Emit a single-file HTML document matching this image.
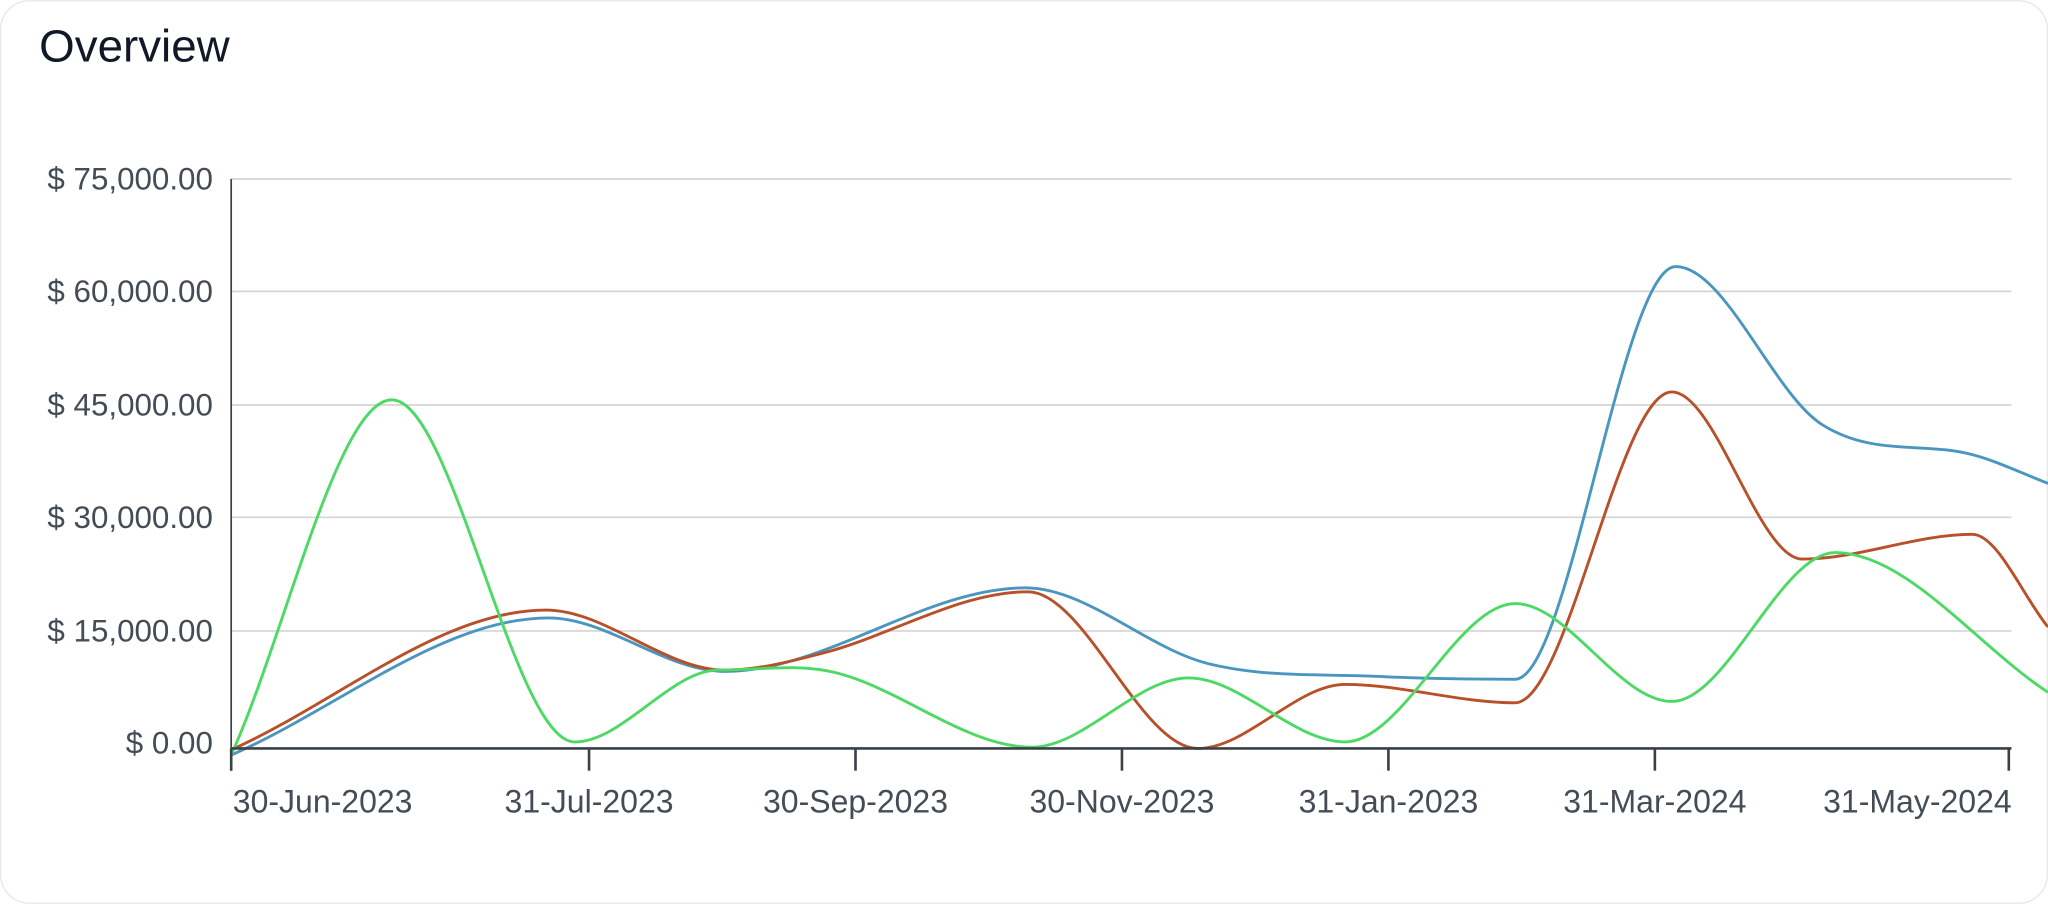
<!DOCTYPE html>
<html><head><meta charset="utf-8"><style>
html,body{margin:0;padding:0;background:#fff;}
svg{display:block;}
</style></head><body>
<svg width="2048" height="904" viewBox="0 0 1568 692" xmlns="http://www.w3.org/2000/svg" font-family="Liberation Sans, sans-serif">
<rect x="0.5" y="0.5" width="1567" height="691" rx="22" fill="#fff" stroke="#e6e6e6"/>
<text x="30" y="47" font-size="35" fill="#111827">Overview</text>
<g stroke="#d4d4d4" stroke-width="1.3">
<line x1="177" y1="137" x2="1540" y2="137"/><line x1="177" y1="223" x2="1540" y2="223"/>
<line x1="177" y1="310" x2="1540" y2="310"/><line x1="177" y1="396" x2="1540" y2="396"/>
<line x1="177" y1="483" x2="1540" y2="483"/>
</g>
<g font-size="24" fill="#444c56" text-anchor="end">
<text x="163" y="145">$ 75,000.00</text><text x="163" y="231">$ 60,000.00</text>
<text x="163" y="318">$ 45,000.00</text><text x="163" y="404">$ 30,000.00</text>
<text x="163" y="491">$ 15,000.00</text><text x="163" y="577">$ 0.00</text>
</g>
<line x1="177" y1="137" x2="177" y2="590" stroke="#3a4048" stroke-width="1.3"/>
<g id="curves" fill="none" stroke-width="2.2"></g>
<line x1="177" y1="573" x2="1540" y2="573" stroke="#3a4048" stroke-width="2"/>
<g stroke="#3a4048" stroke-width="2">
<line x1="177" y1="573" x2="177" y2="590"/><line x1="451" y1="573" x2="451" y2="590"/>
<line x1="655" y1="573" x2="655" y2="590"/><line x1="859" y1="573" x2="859" y2="590"/>
<line x1="1063" y1="573" x2="1063" y2="590"/><line x1="1267" y1="573" x2="1267" y2="590"/>
<line x1="1538" y1="573" x2="1538" y2="590"/>
</g>
<g font-size="24.5" fill="#444c56" text-anchor="middle">
<text x="247" y="622">30-Jun-2023</text><text x="451" y="622">31-Jul-2023</text>
<text x="655" y="622">30-Sep-2023</text><text x="859" y="622">30-Nov-2023</text>
<text x="1063" y="622">31-Jan-2023</text><text x="1267" y="622">31-Mar-2024</text>
<text x="1468" y="622">31-May-2024</text>
</g>
</svg>
<script>
var S={
"#4a96bf":[[177,578],[420,473],[555,514],[785,450],[925,508],[1060,518],[1160,520],[1283,204],[1395,325],[1510,348],[1568,370]],
"#b8502a":[[177,574],[418,467],[555,513],[630,500],[787,453],[917,573],[1030,524],[1160,538],[1280,300],[1380,428],[1510,409],[1568,480]],
"#4cd964":[[177,578],[300,306],[440,568],[550,513],[640,515],[790,572],[910,519],[1030,568],[1160,462],[1280,537],[1405,423],[1568,530]]};
var g=document.getElementById('curves');
for(var c in S){var p=S[c],n=p.length,m=[];
for(var i=0;i<n;i++){var a=p[Math.max(0,i-1)],b=p[Math.min(n-1,i+1)];
var s=(b[1]-a[1])/(b[0]-a[0]);
if(i>0&&i<n-1){var y=p[i][1];if((p[i-1][1]-y)*(p[i+1][1]-y)>0)s=0;}
m.push(s);}
var d="M"+p[0][0]+","+p[0][1];
for(var i=0;i<n-1;i++){var h=(p[i+1][0]-p[i][0])/3;
d+=" C"+(p[i][0]+h)+","+(p[i][1]+m[i]*h)+" "+(p[i+1][0]-h)+","+(p[i+1][1]-m[i+1]*h)+" "+p[i+1][0]+","+p[i+1][1];}
var el=document.createElementNS("http://www.w3.org/2000/svg","path");el.setAttribute("d",d);el.setAttribute("stroke",c);g.appendChild(el);}
</script>
</body></html>
